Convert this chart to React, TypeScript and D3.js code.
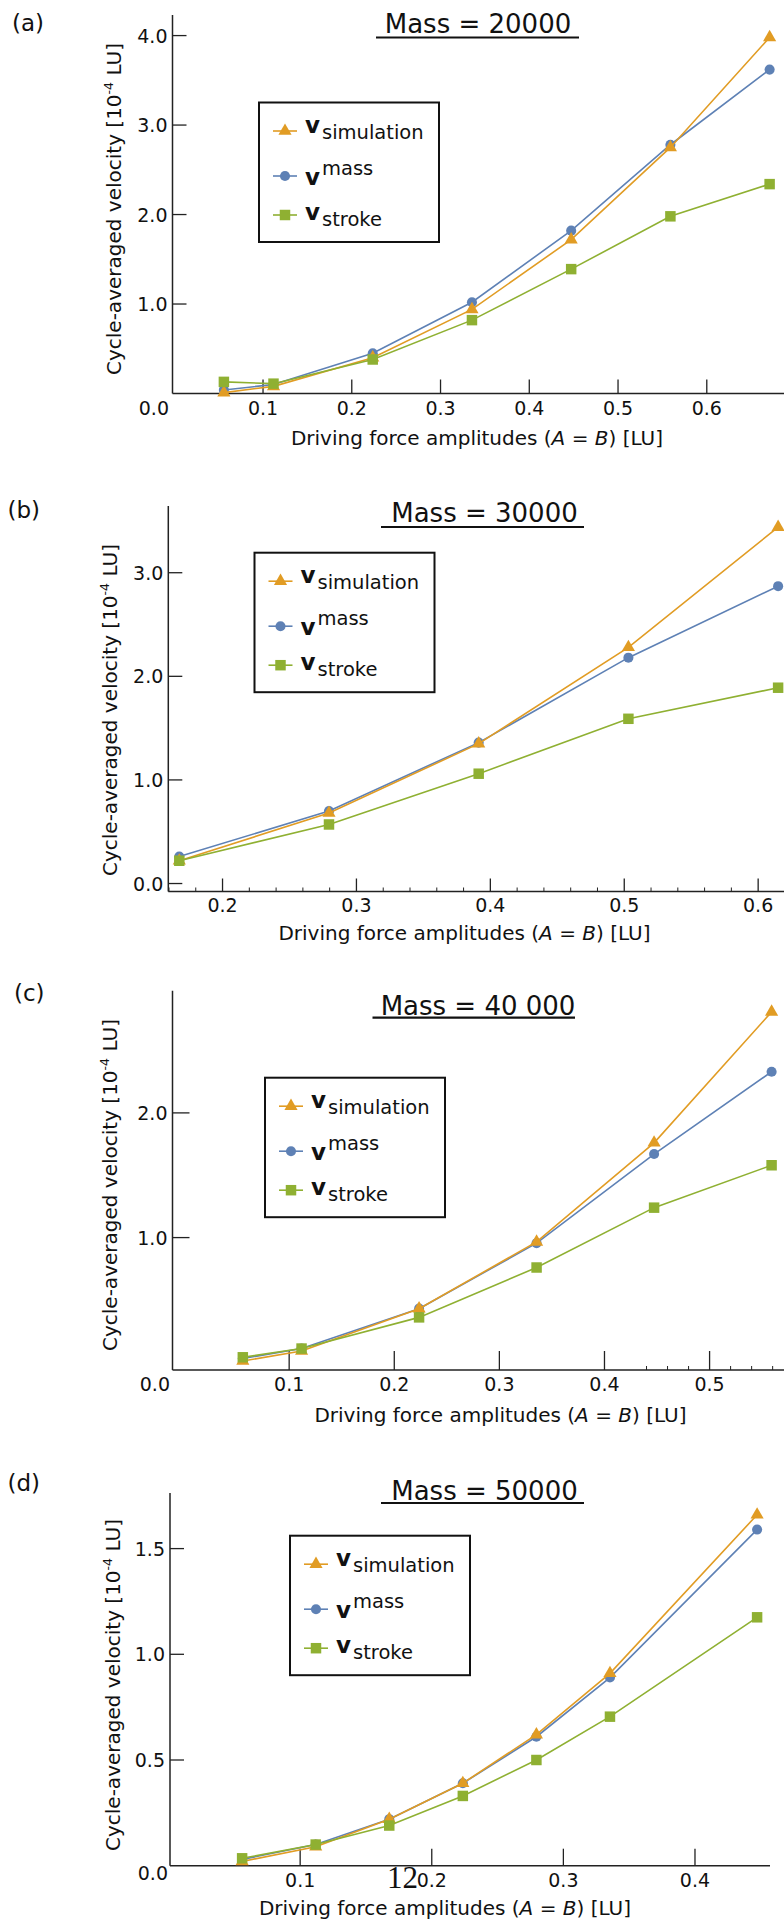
import React from "react";
import * as d3 from "d3";

// amplitudes (A = B) at which the simulations were run
const xA = [0.0559, 0.1118, 0.2236, 0.3354, 0.4472, 0.559, 0.6708];
const simA = [0.01, 0.08, 0.4, 0.94, 1.72, 2.75, 3.98];
const massA = [0.04, 0.1, 0.45, 1.02, 1.82, 2.78, 3.62];
const strokeA = [0.13, 0.11, 0.38, 0.82, 1.39, 1.98, 2.34];

const xB = [0.1677, 0.2795, 0.3913, 0.5031, 0.6149];
const simB = [0.22, 0.68, 1.35, 2.28, 3.44];
const massB = [0.26, 0.7, 1.36, 2.18, 2.87];
const strokeB = [0.22, 0.57, 1.06, 1.59, 1.89];

const xC = [0.0559, 0.1118, 0.2236, 0.3354, 0.4472, 0.559];
const simC = [0.01, 0.09, 0.43, 0.965, 1.76, 2.81];
const massC = [0.03, 0.11, 0.43, 0.955, 1.67, 2.33];
const strokeC = [0.04, 0.11, 0.36, 0.76, 1.24, 1.58];

const xD = [0.0559, 0.1118, 0.1677, 0.2236, 0.2795, 0.3354, 0.4472];
const simD = [0.02, 0.09, 0.22, 0.39, 0.62, 0.91, 1.66];
const massD = [0.03, 0.1, 0.22, 0.39, 0.61, 0.89, 1.59];
const strokeD = [0.035, 0.1, 0.19, 0.33, 0.5, 0.705, 1.175];

const xTicksA = [0.1, 0.2, 0.3, 0.4, 0.5, 0.6];
const yTicksA = [1, 2, 3, 4];
const xTicksB = [0.2, 0.3, 0.4, 0.5, 0.6];
const xMinorB = [0.16, 0.18, 0.22, 0.24, 0.26, 0.28, 0.32, 0.34, 0.36, 0.38, 0.42, 0.44, 0.46, 0.48, 0.52, 0.54, 0.56, 0.58, 0.62];
const yTicksB = [0, 1, 2, 3];
const xTicksC = [0.1, 0.2, 0.3, 0.4, 0.5];
const xMinorC = [0.44, 0.46, 0.48, 0.52, 0.54, 0.56];
const yTicksC = [1, 2];
const xTicksD = [0.1, 0.2, 0.3, 0.4];
const yTicksD = [0.5, 1.0, 1.5];

const masses = ["Mass = 20000", "Mass = 30000", "Mass = 40 000", "Mass = 50000"];

const ORANGE = "#E19C24";
const BLUE = "#5E81B5";
const GREEN = "#8FB032";
const FONT = "DejaVu Sans, Verdana, sans-serif";

const panels = [
  {
    letter: "(a)", letterPos: [12, 31], title: masses[0], titleX: 478, titleY: 33, ul: [376, 579, 37.5],
    xs: xA, sim: simA, mass: massA, stroke: strokeA,
    xDomain: [-0.002, 0.687], xRange: [172.5, 784], yDomain: [0, 4.23], yRange: [393.5, 15],
    xTicks: xTicksA, xMinor: [], yTicks: yTicksA, xTickLen: 14, yTickLen: 14,
    tickBase: 415, yTitle: [114, 209], xTitle: [477, 444.5], legend: [259, 102.5],
    origin: [169, 415], axisEnd: 784,
  },
  {
    letter: "(b)", letterPos: [7.5, 518], title: masses[1], titleX: 484.5, titleY: 522, ul: [381, 584, 527],
    xs: xB, sim: simB, mass: massB, stroke: strokeB,
    xDomain: [0.1595, 0.6193], xRange: [168.3, 784], yDomain: [-0.077, 3.644], yRange: [891.5, 506],
    xTicks: xTicksB, xMinor: xMinorB, yTicks: yTicksB, xTickLen: 13, yTickLen: 14,
    tickBase: 912, yTitle: [110, 710], xTitle: [464.5, 940], legend: [254.5, 552.7],
    origin: null, axisEnd: 784,
  },
  {
    letter: "(c)", letterPos: [14, 1001], title: masses[2], titleX: 478, titleY: 1015, ul: [372.5, 575, 1017.7],
    xs: xC, sim: simC, mass: massC, stroke: strokeC,
    xDomain: [-0.011, 0.5708], xRange: [172.5, 784], yDomain: [-0.062, 2.98], yRange: [1370, 990.7],
    xTicks: xTicksC, xMinor: xMinorC, yTicks: yTicksC, xTickLen: 19, yTickLen: 17,
    tickBase: 1391, yTitle: [110, 1185], xTitle: [500.5, 1421.7], legend: [265, 1077.7],
    origin: [170, 1391], axisEnd: 784,
  },
  {
    letter: "(d)", letterPos: [7.5, 1491], title: masses[3], titleX: 484.5, titleY: 1500, ul: [381, 584, 1503],
    xs: xD, sim: simD, mass: massD, stroke: strokeD,
    xDomain: [0.0011, 0.457], xRange: [170, 770], yDomain: [0, 1.763], yRange: [1865.7, 1493],
    xTicks: xTicksD, xMinor: [], yTicks: yTicksD, xTickLen: 17, yTickLen: 14,
    tickBase: 1887, yTitle: [112.5, 1685], xTitle: [445, 1915], legend: [290, 1535.7],
    origin: [168, 1880], axisEnd: 770,
  },
];

const triangle = d3.symbol().type(d3.symbolTriangle).size(75)();
const circle = d3.symbol().type(d3.symbolCircle).size(80)();
const square = d3.symbol().type(d3.symbolSquare).size(110)();

function Legend({ x, y }) {
  const rows = [
    { path: triangle, color: ORANGE, my: 28.5, vy: 30.2, sub: "simulation", dy: 6.6 },
    { path: circle, color: BLUE, my: 73.5, vy: 82.5, sub: "mass", dy: -10 },
    { path: square, color: GREEN, my: 112.5, vy: 117.5, sub: "stroke", dy: 5.5 },
  ];
  return (
    <g transform={`translate(${x},${y})`}>
      <rect x={0} y={0} width={180} height={139.5} fill="white" stroke="#111" strokeWidth={2} />
      {rows.map((r, i) => (
        <g key={i}>
          <line x1={14} x2={38} y1={r.my} y2={r.my} stroke={r.color} strokeWidth={1.6} />
          <path d={r.path} transform={`translate(26,${r.my})`} fill={r.color} />
          <text x={46} y={r.vy} fontFamily={FONT} fill="#111">
            <tspan fontWeight="bold" fontSize={23}>v</tspan>
            <tspan fontSize={19.5} dx={2} dy={r.dy}>{r.sub}</tspan>
          </text>
        </g>
      ))}
    </g>
  );
}

function Panel({ p }) {
  const x = d3.scaleLinear().domain(p.xDomain).range(p.xRange);
  const y = d3.scaleLinear().domain(p.yDomain).range(p.yRange);
  const x0 = p.xRange[0];
  const y0 = p.yRange[0];
  const line = (vals) => d3.line()(p.xs.map((v, i) => [x(v), y(vals[i])]));
  const series = [
    { vals: p.mass, color: BLUE, shape: circle },
    { vals: p.sim, color: ORANGE, shape: triangle },
    { vals: p.stroke, color: GREEN, shape: square },
  ];
  return (
    <g>
      <text x={p.letterPos[0]} y={p.letterPos[1]} fontFamily={FONT} fontSize={23} fill="#111">{p.letter}</text>
      <text x={p.titleX} y={p.titleY} textAnchor="middle" fontFamily={FONT} fontSize={26} fill="#111">{p.title}</text>
      <line x1={p.ul[0]} x2={p.ul[1]} y1={p.ul[2]} y2={p.ul[2]} stroke="#111" strokeWidth={2.2} />

      {/* axes */}
      <line x1={x0} x2={x0} y1={p.yRange[1]} y2={y0} stroke="#222" strokeWidth={1.5} />
      <line x1={x0} x2={p.axisEnd} y1={y0} y2={y0} stroke="#222" strokeWidth={1.5} />
      {p.xTicks.map((t) => (
        <g key={"x" + t}>
          <line x1={x(t)} x2={x(t)} y1={y0} y2={y0 - p.xTickLen} stroke="#222" strokeWidth={1.3} />
          <text x={x(t)} y={p.tickBase} textAnchor="middle" fontFamily={FONT} fontSize={19} fill="#111">{t.toFixed(1)}</text>
        </g>
      ))}
      {p.xMinor.map((t) => (
        <line key={"m" + t} x1={x(t)} x2={x(t)} y1={y0} y2={y0 - 4} stroke="#222" strokeWidth={1} />
      ))}
      {p.yTicks.map((t) => (
        <g key={"y" + t}>
          <line x1={x0} x2={x0 + p.yTickLen} y1={y(t)} y2={y(t)} stroke="#222" strokeWidth={1.3} />
          <text x={x0 - 5} y={y(t) + 7} textAnchor="end" fontFamily={FONT} fontSize={19} fill="#111">{t.toFixed(1)}</text>
        </g>
      ))}
      {p.origin && (
        <text x={p.origin[0]} y={p.origin[1]} textAnchor="end" fontFamily={FONT} fontSize={19} fill="#111">0.0</text>
      )}

      <text transform={`translate(${p.yTitle[0]},${p.yTitle[1]}) rotate(-90)`} y={7} textAnchor="middle" fontFamily={FONT} fontSize={20} fill="#111">
        Cycle-averaged velocity [10<tspan fontSize={12.5} dy={-8}>-4</tspan><tspan dy={8}> LU]</tspan>
      </text>
      <text x={p.xTitle[0]} y={p.xTitle[1]} textAnchor="middle" fontFamily={FONT} fontSize={20} fill="#111">
        Driving force amplitudes (<tspan fontStyle="italic">A</tspan> = <tspan fontStyle="italic">B</tspan>) [LU]
      </text>

      {series.map((s, i) => (
        <g key={i}>
          <path d={line(s.vals)} fill="none" stroke={s.color} strokeWidth={1.6} />
          {p.xs.map((v, j) => (
            <path key={j} d={s.shape} transform={`translate(${x(v)},${y(s.vals[j])})`} fill={s.color} />
          ))}
        </g>
      ))}

      <Legend x={p.legend[0]} y={p.legend[1]} />
    </g>
  );
}

export default function App() {
  return (
    <svg width={784} height={1921} style={{ position: "absolute", left: 0, top: 0, background: "white" }}>
      <rect width={784} height={1921} fill="white" />
      {panels.map((p) => (
        <Panel key={p.letter} p={p} />
      ))}
      <text x={387} y={1888} fontFamily="Liberation Serif, Times New Roman, serif" fontSize={31} fill="#111">12</text>
    </svg>
  );
}
